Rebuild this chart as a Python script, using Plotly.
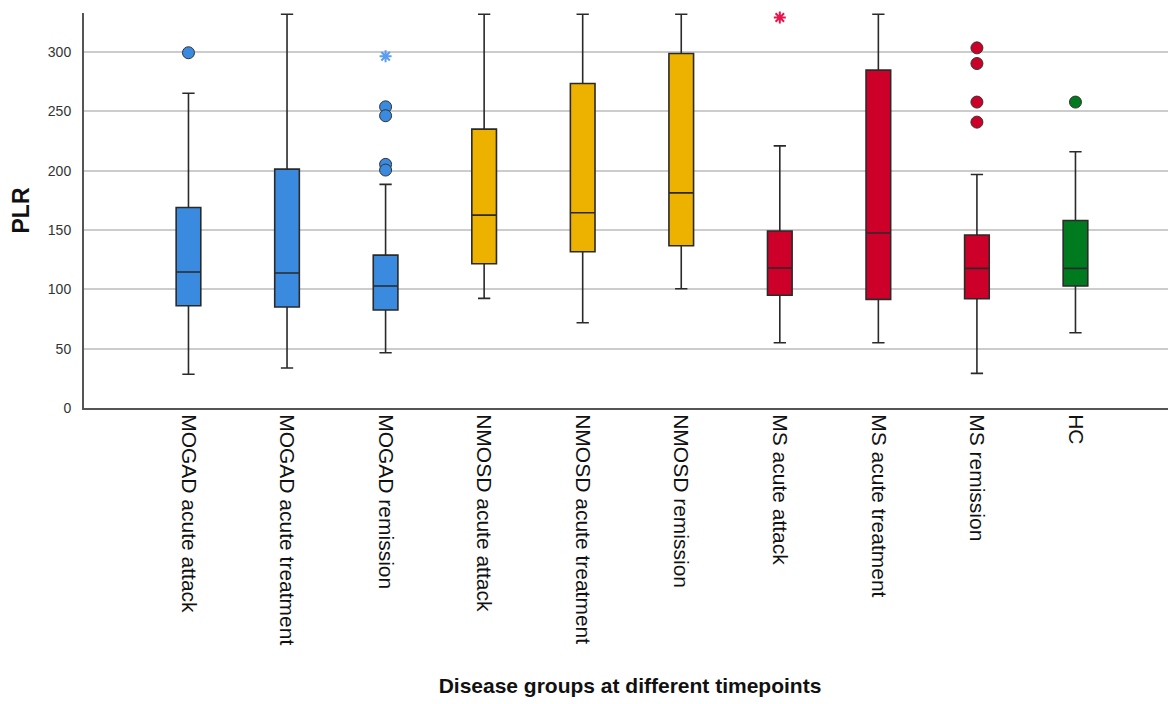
import plotly.graph_objects as go

categories = ["MOGAD acute attack", "MOGAD acute treatment", "MOGAD remission",
              "NMOSD acute attack", "NMOSD acute treatment", "NMOSD remission",
              "MS acute attack", "MS acute treatment", "MS remission", "HC"]
lower_whisker = [28.4, 33.7, 46.6, 92.4, 71.9, 100.5, 55.0, 55.0, 29.2, 63.5]
q1 = [86.2, 85.1, 82.6, 121.6, 131.7, 136.8, 95.0, 91.6, 92.1, 102.8]
median = [114.6, 113.8, 102.8, 162.6, 164.6, 181.4, 118.0, 147.5, 117.7, 117.7]
q3 = [169.0, 201.4, 128.9, 235.1, 273.6, 298.9, 149.2, 284.8, 145.8, 158.1]
upper_whisker = [265.4, 332.0, 188.5, 332.0, 332.0, 332.0, 221.0, 332.0, 196.9, 216.0]

# outliers (circles) and extreme values (stars)
outlier_cat = ["MOGAD acute attack", "MOGAD remission", "MOGAD remission", "MOGAD remission",
               "MOGAD remission", "MS remission", "MS remission", "MS remission", "MS remission", "HC"]
outlier_val = [299.5, 253.9, 246.4, 205.4, 200.6, 303.6, 290.4, 257.9, 241.0, 257.9]
extreme_cat = ["MOGAD remission", "MS acute attack"]
extreme_val = [296.6, 329.2]

group_colors = ["#3A8BDF"] * 3 + ["#EDB100"] * 3 + ["#CC0029"] * 3 + ["#007A1E"]
star_colors = {"MOGAD remission": "#5A9CF0", "MS acute attack": "#E8144A"}

fig = go.Figure()
for i, c in enumerate(categories):
    fig.add_trace(go.Box(
        x=[c], q1=[q1[i]], median=[median[i]], q3=[q3[i]],
        lowerfence=[lower_whisker[i]], upperfence=[upper_whisker[i]],
        fillcolor=group_colors[i], line=dict(color="#2a2a2a", width=1.6),
        width=0.25, whiskerwidth=0.5, boxpoints=False, showlegend=False,
        hoverinfo="skip",
    ))

for c, v in zip(outlier_cat, outlier_val):
    col = group_colors[categories.index(c)]
    fig.add_trace(go.Scatter(
        x=[c], y=[v], mode="markers", showlegend=False, cliponaxis=False,
        marker=dict(symbol="circle", size=12, color=col, line=dict(color="#333333", width=1)),
    ))
for c, v in zip(extreme_cat, extreme_val):
    fig.add_trace(go.Scatter(
        x=[c], y=[v], mode="markers", showlegend=False, cliponaxis=False,
        marker=dict(symbol="asterisk", size=10, color=star_colors[c],
                    line=dict(color=star_colors[c], width=2)),
    ))

fig.update_layout(
    width=1176, height=704,
    margin=dict(l=76, r=8, t=5, b=304),
    plot_bgcolor="white", paper_bgcolor="white",
    font=dict(family="Liberation Sans, Arial, sans-serif", color="#222222"),
    boxmode="overlay",
    xaxis=dict(
        type="category", categoryorder="array", categoryarray=categories,
        range=[-1.06, 10.02], tickangle=90, tickfont=dict(size=21, color="#111111"),
        showline=True, linecolor="#555555", linewidth=2, showgrid=False,
        ticks="", ticklen=0,
        title=dict(text="<b>Disease groups at different timepoints</b>",
                   font=dict(size=21, color="#111111"), standoff=34),
    ),
    yaxis=dict(
        range=[0, 333], tickvals=[0, 50, 100, 150, 200, 250, 300],
        tickfont=dict(size=14, color="#333333"), ticklabelstandoff=8,
        showline=True, linecolor="#555555", linewidth=2,
        showgrid=True, gridcolor="#CCCCCC", gridwidth=2, zeroline=False,
        ticks="", ticklen=0,
        title=dict(text="<b>PLR</b>", font=dict(size=23, color="#111111"), standoff=20),
    ),
)

fig.write_html("out.html")
